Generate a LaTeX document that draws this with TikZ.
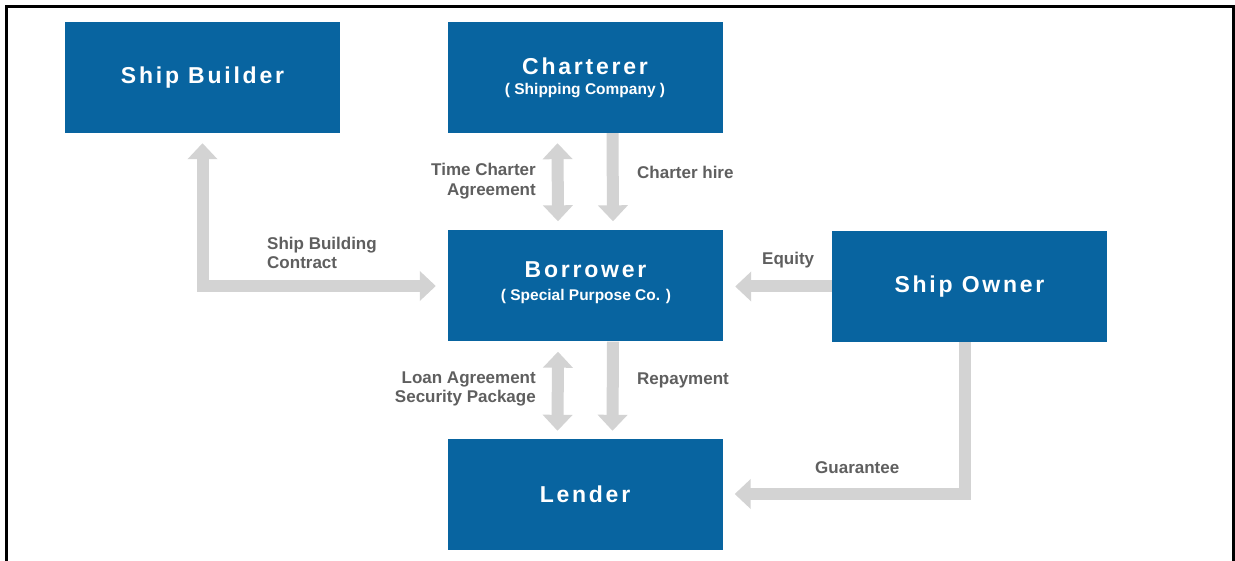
\documentclass[tikz,border=0pt]{standalone}
\usepackage{fontspec}
\setmainfont{Liberation Sans}
\newfontfamily\titlefont[LetterSpace=12]{Liberation Sans}
\usetikzlibrary{arrows.meta}
\definecolor{boxblue}{RGB}{8,100,160}
\definecolor{flowgray}{RGB}{211,211,211}
\definecolor{labelgray}{RGB}{95,95,95}
\tikzset{
  entity/.style={fill=boxblue, draw=none, minimum width=275pt, minimum height=111pt,
    inner sep=0pt, text=white, align=center},
  ttl/.style={font=\titlefont\bfseries\fontsize{23}{26}\selectfont, text=white, inner sep=0pt},
  sub/.style={font=\bfseries\fontsize{15.5}{17}\selectfont, text=white, inner sep=0pt},
  flow/.style={draw=flowgray, line width=12pt, line cap=butt, line join=miter,
    -{Triangle[width=29pt,length=16pt]}},
  twoway/.style={flow, {Triangle[width=29pt,length=16pt]}-{Triangle[width=29pt,length=16pt]}},
  lbl/.style={text=labelgray, font=\bfseries\fontsize{17}{19.5}\selectfont, inner sep=0pt},
}
\begin{document}
\begin{tikzpicture}[x=1pt, y=-1pt]
  \useasboundingbox (0,0) rectangle (1235,561);
  \fill[white] (0,0) rectangle (1235,561);
  % frame
  \draw[black, line width=3pt] (6.5,561) -- (6.5,7) -- (1233,7) -- (1233,561);

  % parties
  \node[entity] (sb) at (202.5,77.5) {};
  \node[ttl] (sbt) at (sb.center) {Ship Builder};
  \node[entity] (ch) at (585,77.5) {};
  \node[ttl] (cht) at (585,66) {Charterer};
  \node[sub] (chs) at (585,91) {( Shipping Company )};
  \node[entity] (bo) at (585.5,286) {};
  \node[ttl] (bot) at (585.5,269.5) {Borrower};
  \node[sub] (bos) at (586,296) {( Special Purpose Co. )};
  \node[entity] (so) at (969.5,286.5) {};
  \node[ttl] (sot) at (so.center) {Ship Owner};
  \node[entity] (le) at (585,494.5) {};
  \node[ttl] (let) at (le.center) {Lender};

  % flows
  \draw[twoway] ([yshift=-10pt]sb.south) |- ([xshift=-12pt]bo.west);
  \draw[twoway] ([xshift=-27.5pt,yshift=-10pt]ch.south) -- ([xshift=-27.5pt,yshift=9pt]bo.north);
  \draw[flow] ([xshift=27.5pt]ch.south) -- ([xshift=27.5pt,yshift=9pt]bo.north);
  \draw[twoway] ([xshift=-27.5pt,yshift=-10pt]bo.south) -- ([xshift=-27.5pt,yshift=8pt]le.north);
  \draw[flow] ([xshift=27.5pt]bo.south) -- ([xshift=27.5pt,yshift=8pt]le.north);
  \draw[flow] (so.west) -- ([xshift=12pt]so.west -| bo.east);
  \draw[flow] ([xshift=-5pt]so.south) |- ([xshift=12pt,yshift=0.5pt]le.east);

  % flow labels
  \node[lbl, anchor=west, align=left] (l1) at (267,253) {Ship Building\\Contract};
  \node[lbl, anchor=east, align=right] (l2) at (536,181) {Time Charter\\Agreement};
  \node[lbl, anchor=west] (l3) at (637,172) {Charter hire};
  \node[lbl, anchor=west] (l4) at (762,260) {Equity};
  \node[lbl, anchor=east, align=right] (l5) at (536,389) {Loan Agreement\\Security Package};
  \node[lbl, anchor=west] (l6) at (637,380) {Repayment};
  \node[lbl, anchor=west] (l7) at (815,468) {Guarantee};
\end{tikzpicture}
\end{document}
